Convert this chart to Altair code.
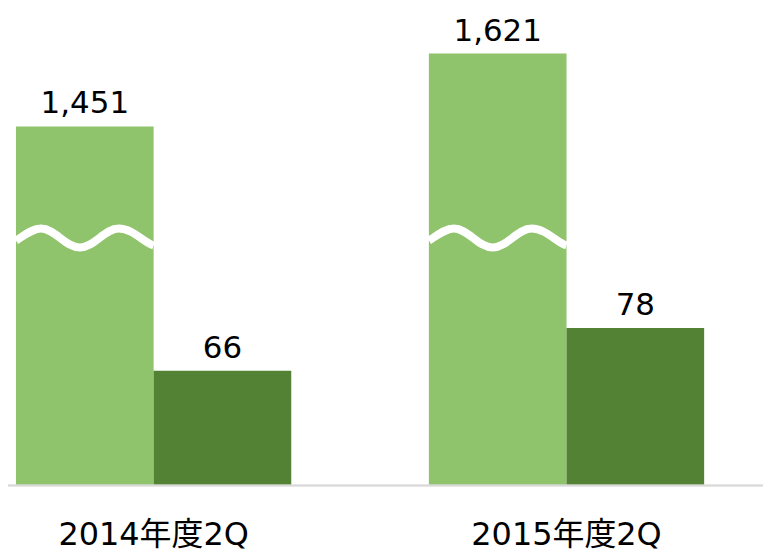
import altair as alt
import pandas as pd

periods = ["2014年度2Q", "2015年度2Q"]
series = ["系列1", "系列2"]
values_s1 = [1451, 1621]
values_s2 = [66, 78]
break_value = 690  # where the wavy axis-break sits on the tall bars

rows = []
for i, p in enumerate(periods):
    rows.append({"period": p, "series": series[0], "value": values_s1[i], "label": f"{values_s1[i]:,}"})
    rows.append({"period": p, "series": series[1], "value": values_s2[i], "label": f"{values_s2[i]:,}"})
df = pd.DataFrame(rows)
breaks = pd.DataFrame({"period": periods, "series": [series[0]] * 2, "value": [break_value] * 2})

H = 486
W = 771
# broken (piecewise) value axis, as drawn in the original
y_scale = alt.Scale(domain=[0, 66, 78, 1451, 1621],
                    range=[H, H - 115, H - 158, 126, 53], nice=False, zero=False)
x_scale = alt.Scale(range=[15, 705], paddingInner=1 / 3, paddingOuter=0)
xo_scale = alt.Scale(paddingInner=0, paddingOuter=0)

FONT = "DejaVu Sans, Noto Sans CJK JP"

x_enc = alt.X("period:N", scale=x_scale, sort=periods,
              axis=alt.Axis(title=None, domain=False, ticks=False, tickSize=0, labelAngle=0,
                            labelFont=FONT, labelFontSize=32, labelColor="#000000",
                            labelLimit=0, labelBaseline="alphabetic", labelPadding=59,
                            grid=False))
xo_enc = alt.XOffset("series:N", scale=xo_scale, sort=series)
y_enc = alt.Y("value:Q", scale=y_scale, axis=None)

bars = alt.Chart(df).mark_bar().encode(
    x=x_enc, xOffset=xo_enc, y=y_enc,
    color=alt.Color("series:N", sort=series,
                    scale=alt.Scale(domain=series, range=["#8FC36C", "#548235"]), legend=None),
)

labels = alt.Chart(df).mark_text(font=FONT, fontSize=31, color="#000000",
                                 baseline="alphabetic", dy=-13).encode(
    x=x_enc, xOffset=xo_enc, y=y_enc, text="label:N")

wave_path = ("M -1 0.036 C -0.85 -0.06 -0.75 -0.138 -0.638 -0.138 "
             "C -0.43 -0.138 -0.28 0.138 -0.072 0.138 "
             "C 0.134 0.138 0.286 -0.138 0.493 -0.138 "
             "C 0.70 -0.138 0.85 0.06 1 0.109")
waves = alt.Chart(breaks).mark_point(shape=wave_path, size=138 * 138, filled=False,
                                     stroke="#FFFFFF", strokeWidth=8, opacity=1).encode(
    x=x_enc, xOffset=xo_enc, y=y_enc)

baseline = alt.Chart(df).mark_rule(color="#D9D9D9", strokeWidth=1.5).encode(
    y=alt.datum(0, scale=y_scale))

chart = alt.layer(bars, waves, labels, baseline).properties(
    width=W, height=H,
    padding={"left": -8, "top": -8, "right": -8, "bottom": 3},
    background="#FFFFFF",
).configure_view(stroke=None)

chart.save("out.html", embed_options={"renderer": "svg", "actions": False})
